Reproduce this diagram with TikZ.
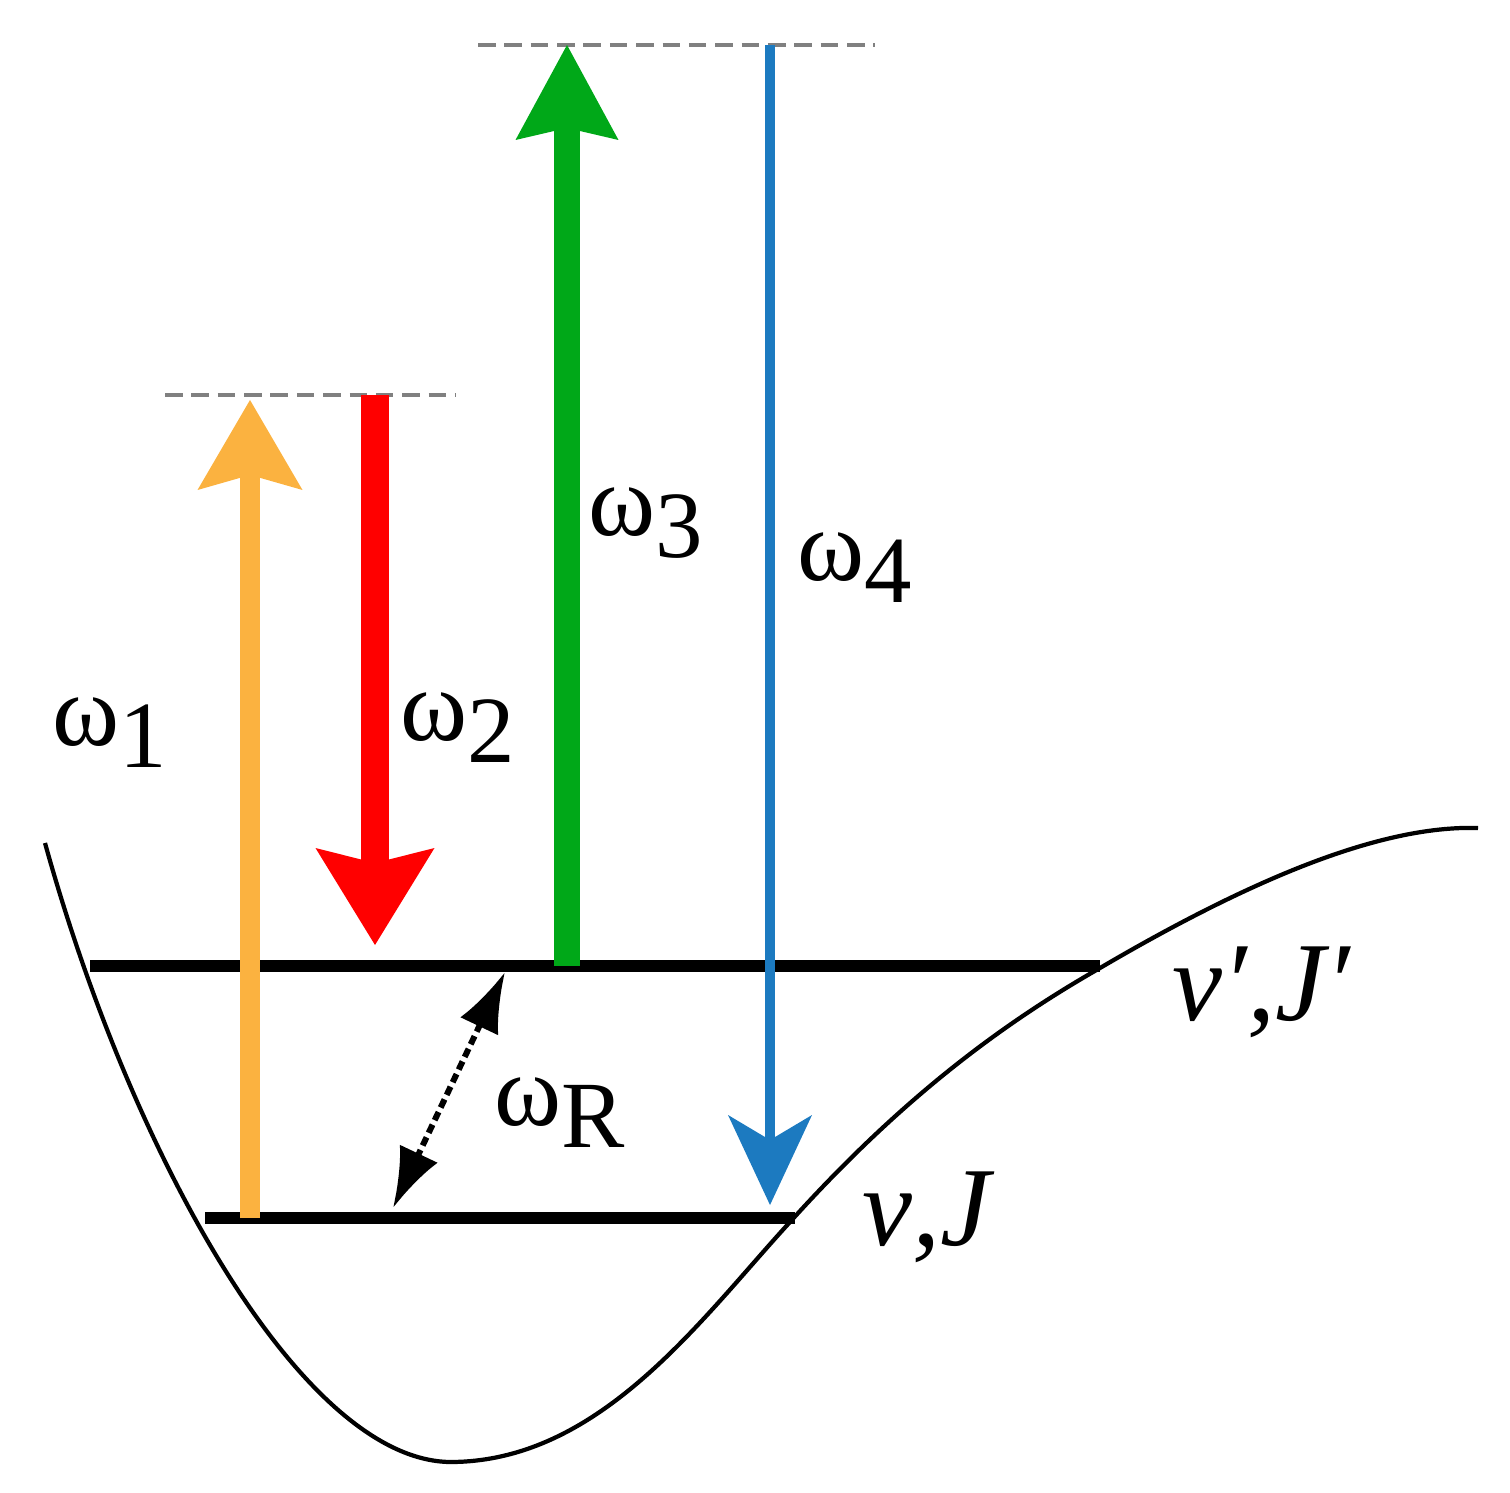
\documentclass[tikz,border=0pt]{standalone}
\usepackage{fontspec}
\setmainfont{Liberation Serif}
\usepackage{xcolor}
\usetikzlibrary{arrows.meta}

\definecolor{pumpOrange}{RGB}{251,178,64}
\definecolor{pumpRed}{RGB}{255,0,0}
\definecolor{pumpGreen}{RGB}{0,168,24}
\definecolor{probeBlue}{RGB}{28,122,192}

\newcommand{\freq}[1]{ω\raisebox{-0.22cm}{\fontsize{27}{32}\selectfont #1}}

\begin{document}
\begin{tikzpicture}[
    well/.style={line width=1.2pt},
    level/.style={line width=3.4pt},
    virt/.style={gray, line width=1.2pt, dash pattern=on 5pt off 2.5pt},
    beam/.style={line cap=butt},
    lab/.style={font=\fontsize{29}{34}\selectfont, inner sep=0pt, anchor=base west},
    state/.style={font=\fontsize{32}{38}\selectfont\itshape, inner sep=0pt, anchor=base west}
]
    \useasboundingbox (0,0) rectangle (15.1,-14.93);

    % Potential well
    \draw[well] (0.45,-8.43) .. controls (1.30,-11.50) and (3.00,-14.60) .. (4.50,-14.62)
        .. controls (6.00,-14.62) and (7.00,-13.20) .. (7.90,-12.22)
        .. controls (9.00,-11.00) and (10.00,-10.25) .. (11.00,-9.68)
        .. controls (12.50,-8.80) and (13.80,-8.25) .. (14.78,-8.28);

    % Vibrational-rotational levels
    \coordinate (upL) at (0.90,-9.66);
    \coordinate (upR) at (11.00,-9.66);
    \coordinate (loL) at (2.05,-12.18);
    \coordinate (loR) at (7.95,-12.18);
    \draw[level] (upL) -- (upR);
    \draw[level] (loL) -- (loR);

    % Virtual levels
    \coordinate (v1L) at (1.65,-3.95);
    \coordinate (v1R) at (4.55,-3.95);
    \coordinate (v2L) at (4.78,-0.45);
    \coordinate (v2R) at (8.75,-0.45);
    \draw[virt] (v1L) -- (v1R);
    \draw[virt] (v2L) -- (v2R);

    % Laser fields
    \coordinate (o1a) at (2.50,-12.18);
    \coordinate (o1b) at (2.50,-4.00);
    \coordinate (o2a) at (3.75,-3.95);
    \coordinate (o2b) at (3.75,-9.45);
    \coordinate (o3a) at (5.67,-9.66);
    \coordinate (o3b) at (5.67,-0.45);
    \coordinate (o4a) at (7.70,-0.45);
    \coordinate (o4b) at (7.70,-12.05);
    \draw[beam, pumpOrange, line width=0.2cm,
        -{Stealth[length=0.9cm, width=1.05cm, inset=0.15cm, line width=0pt]}] (o1a) -- (o1b);
    \draw[beam, pumpRed, line width=0.28cm,
        -{Stealth[length=0.97cm, width=1.19cm, inset=0.15cm, line width=0pt]}] (o2a) -- (o2b);
    \draw[beam, pumpGreen, line width=0.26cm,
        -{Stealth[length=0.95cm, width=1.03cm, inset=0.12cm, line width=0pt]}] (o3a) -- (o3b);
    \draw[beam, probeBlue, line width=0.1cm,
        -{Stealth[length=0.9cm, width=0.84cm, inset=0.25cm, line width=0pt]}] (o4a) -- (o4b);

    % Raman coherence
    \coordinate (rTop) at (5.05,-9.72);
    \coordinate (rBot) at (3.93,-12.08);
    \draw[line width=1.7pt, dash pattern=on 0.09cm off 0.05cm,
        {Latex[length=0.6cm, width=0.42cm]}-{Latex[length=0.6cm, width=0.42cm]}] (rTop) -- (rBot);

    % Labels
    \node[lab] (w1) at (0.52,-7.45) {\freq{1}};
    \node[lab] (w2) at (4.00,-7.40) {\freq{2}};
    \node[lab] (w3) at (5.88,-5.35) {\freq{3}};
    \node[lab] (w4) at (7.97,-5.80) {\freq{4}};
    \node[lab] (wR) at (4.94,-11.25) {\freq{R}};
    \node[state] (upper) at (11.72,-10.20) {ν′,J′};
    \node[state] (lower) at (8.62,-12.45) {ν,J};
\end{tikzpicture}
\end{document}
